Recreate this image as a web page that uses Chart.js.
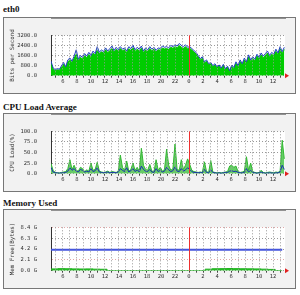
<!DOCTYPE html>
<html>
<head>
<meta charset="utf-8">
<script src="https://cdn.jsdelivr.net/npm/chart.js@4"></script>
<style>
body { margin: 0; background: #fff; width: 300px; height: 295px; overflow: hidden; position: relative; }
.title { position: absolute; left: 3px; font: bold 9px "Liberation Serif", serif; color: #111; line-height: 10px; }
.box { position: absolute; left: 3px; width: 291px; border: 1px solid #777; background: #f2f2f2; }
canvas { display: block; }
</style>
</head>
<body>
<div class="title" style="top:4px">eth0</div>
<div class="box" style="top:17px;height:75px"><canvas id="eth" width="291" height="75"></canvas></div>
<div class="title" style="top:102px">CPU Load Average</div>
<div class="box" style="top:113px;height:77px"><canvas id="cpu" width="291" height="77"></canvas></div>
<div class="title" style="top:198px">Memory Used</div>
<div class="box" style="top:209px;height:78px"><canvas id="mem" width="291" height="78"></canvas></div>
<script>
// time axis: hours since midnight of first day
const hourStart = 4.3, hourStep = 0.3, hourEnd = 37.7;
const hourTicks = [5,6,7,8,9,10,11,12,13,14,15,16,17,18,19,20,21,22,23,24,25,26,27,28,29,30,31,32,33,34,35,36,37];
const midnight = 24;

// eth0 (bits per second)
const ethOut = [1150,620,480,560,520,780,1050,700,1250,1400,
  1150,1550,2050,1300,1600,1450,1750,1550,1850,1600,
  1950,1750,2300,1850,2050,1900,2200,1950,2150,2350,
  2000,2250,2050,2300,2100,2200,1950,2300,2150,2400,
  2050,2250,2100,2350,1950,2200,2050,2300,2100,2250,
  2000,2200,2150,2350,2250,2300,2200,2400,2300,2450,
  2350,2550,2400,2300,2450,2250,2300,2150,2000,1850,
  1600,1350,1500,1100,1250,950,1050,800,950,700,
  850,600,900,550,750,400,850,650,1100,800,
  1250,950,1400,1100,1650,1250,1500,1300,1700,1450,
  1800,1550,1750,1950,1600,1850,1700,2100,1800,2300,
  1900,2250];
const ethIn = [1000,520,400,470,440,660,900,600,1100,1250,
  1020,1380,1700,1180,1450,1320,1580,1420,1680,1470,
  1780,1620,2050,1720,1900,1780,2050,1820,2000,2150,
  1880,2100,1920,2150,1980,2060,1830,2140,2010,2220,
  1920,2100,1970,2180,1830,2060,1930,2150,1980,2100,
  1880,2060,2020,2200,2120,2160,2080,2250,2170,2300,
  2220,2380,2260,2170,2300,2120,2170,2030,1880,1720,
  1480,1240,1380,1000,1140,850,960,720,850,620,
  760,520,800,470,660,340,750,560,980,700,
  1120,850,1260,990,1500,1130,1370,1180,1560,1320,
  1650,1410,1610,1790,1460,1700,1560,1930,1650,2120,
  1750,2080];
const ethYTicks = [0, 800, 1600, 2400, 3200];

// CPU load (%)
const cpuPeak = [24,8,3,2,2,3,4,5,12,33,
  10,20,8,6,15,12,5,9,6,25,
  8,10,27,6,4,3,4,6,3,5,
  4,3,6,44,15,8,30,6,10,25,
  8,15,6,60,20,10,8,22,6,5,
  33,8,15,6,10,58,20,8,12,70,
  10,8,33,10,20,35,22,8,5,4,
  3,4,3,28,5,3,31,4,3,2,
  3,2,3,4,5,18,20,15,18,5,
  3,4,6,40,8,25,5,3,2,3,
  8,3,2,3,4,3,2,4,3,6,
  79,35];
const cpuAvg = [15,4,2,2,1,2,2,3,6,14,
  8,12,6,4,10,8,4,6,4,12,
  5,7,14,4,3,2,3,4,2,3,
  3,2,4,12,8,5,14,4,7,12,
  5,9,4,18,10,6,5,10,4,3,
  12,5,8,4,6,15,9,5,7,16,
  6,5,12,6,9,14,10,5,3,3,
  2,3,2,10,3,2,9,3,2,1,
  2,1,2,3,3,6,7,5,6,3,
  2,2,3,12,4,8,3,2,1,2,
  4,2,1,2,2,2,1,2,2,4,
  20,10];
const cpuYTicks = [0, 25, 50, 75, 100];

// memory (GB), hourly samples
const memStart = 4.3, memStep = 1;
const memUsed = [0.35,0.4,0.38,0.35,0.33,0.35,0.3,0.28,0,0,
  0,0,0,0,0,0,0,0,0,0,
  0,0,0.3,0.38,0.4,0.42,0.4,0.38,0.36,0.35,
  0.3,0.25,0,0];
const memFree = [4.05,4.05,4.05,4.05,4.05,4.05,4.05,4.05,4.05,4.05,
  4.05,4.05,4.05,4.05,4.05,4.05,4.05,4.05,4.05,4.05,
  4.05,4.05,4.05,4.05,4.05,4.05,4.05,4.05,4.05,4.05,
  4.05,4.05,4.05,4.05];
const memYTicks = [0, 2.1, 4.2, 6.3, 8.4];

const mono = 'DejaVu Sans Mono';
const toXY = (arr, start, step) => arr.map((v, i) => ({ x: start + i * step, y: v }));

const decor = {
  id: 'decor',
  beforeDraw(chart) {
    const { ctx, chartArea: a } = chart;
    ctx.save();
    ctx.fillStyle = '#ffffff';
    ctx.fillRect(a.left, a.top, a.right - a.left, a.bottom - a.top);
    ctx.restore();
  },
  afterDraw(chart) {
    const { ctx, chartArea: a } = chart;
    const x0 = Math.round(chart.scales.x.getPixelForValue(midnight)) + 0.5;
    ctx.save();
    ctx.strokeStyle = '#ee3030';
    ctx.lineWidth = 1;
    ctx.beginPath();
    ctx.moveTo(x0, a.top);
    ctx.lineTo(x0, a.bottom);
    ctx.stroke();
    ctx.fillStyle = '#e02020';
    ctx.beginPath();
    ctx.moveTo(a.right + 4, a.bottom);
    ctx.lineTo(a.right, a.bottom - 2.5);
    ctx.lineTo(a.right, a.bottom + 2.5);
    ctx.closePath();
    ctx.fill();
    ctx.restore();
  }
};

function makePanel(id, datasets, yMax, yTicks, yFmt, yTitle, padTop, xHeight, yGridColor) {
  return new Chart(document.getElementById(id), {
    type: 'line',
    data: { datasets },
    plugins: [decor],
    options: {
      responsive: false,
      animation: false,
      layout: { padding: { left: 0, top: padTop, right: 10, bottom: 0 } },
      plugins: { legend: { display: false }, tooltip: { enabled: false } },
      elements: { point: { radius: 0 }, line: { tension: 0 } },
      scales: {
        x: {
          type: 'linear', min: hourStart, max: hourEnd,
          afterFit: s => { s.height = xHeight; },
          afterBuildTicks: s => { s.ticks = hourTicks.map(v => ({ value: v })); },
          ticks: {
            autoSkip: false, maxRotation: 0, padding: 1, color: '#333',
            font: { family: mono, size: 5.5 },
            callback: v => (v % 2 === 0 ? String(v % 24) : '')
          },
          grid: {
            z: 1,
            color: c => (c.tick && c.tick.value === midnight ? 'rgba(0,0,0,0)' : '#999999'),
            lineWidth: 1, tickLength: 2, tickColor: '#444'
          },
          border: { color: '#333', dash: [1, 2] }
        },
        y: {
          min: 0, max: yMax,
          afterFit: s => { s.width = 47; },
          afterBuildTicks: s => { s.ticks = yTicks.map(v => ({ value: v })); },
          ticks: { padding: 14, color: '#333', font: { family: mono, size: 5.5 }, callback: yFmt },
          grid: { color: yGridColor, drawTicks: false },
          border: { color: '#333', dash: [1, 2] },
          title: {
            display: true, text: yTitle, color: '#333',
            font: { family: mono, size: 5.8 }, padding: { top: 5, bottom: 0 }
          }
        }
      }
    }
  });
}

makePanel('eth', [
  { data: toXY(ethOut, hourStart, hourStep), borderColor: '#1f3fbf', borderWidth: 1, fill: false, order: 0 },
  { data: toXY(ethIn, hourStart, hourStep), borderColor: '#00c000', backgroundColor: '#00cc00', borderWidth: 1, fill: 'origin', order: 1 }
], 3200, ethYTicks, v => v.toFixed(1), 'Bits per Second', 6, 11, '#999999');

makePanel('cpu', [
  { data: toXY(cpuAvg, hourStart, hourStep), borderColor: '#1a33b0', borderWidth: 1, fill: false, order: 0 },
  { data: toXY(cpuPeak, hourStart, hourStep), borderColor: '#33b833', backgroundColor: '#66cc66', borderWidth: 1, fill: 'origin', order: 1 }
], 100, cpuYTicks, v => v.toFixed(1), 'CPU Load(%)', 7, 12, '#999999');

makePanel('mem', [
  { data: toXY(memFree, memStart, memStep), borderColor: '#4455dd', borderWidth: 2, fill: false, order: 0 },
  { data: toXY(memUsed, memStart, memStep), borderColor: '#22b022', backgroundColor: '#22c022', borderWidth: 1, fill: 'origin', stepped: true, order: 1 }
], 8.4, memYTicks, v => v.toFixed(1) + ' G', 'Mem Free(Bytes)', 9, 13,
  c => (c.tick && (c.tick.value === 2.1 || c.tick.value === 8.4) ? '#e0a8a8' : '#999999'));
</script>
</body>
</html>
